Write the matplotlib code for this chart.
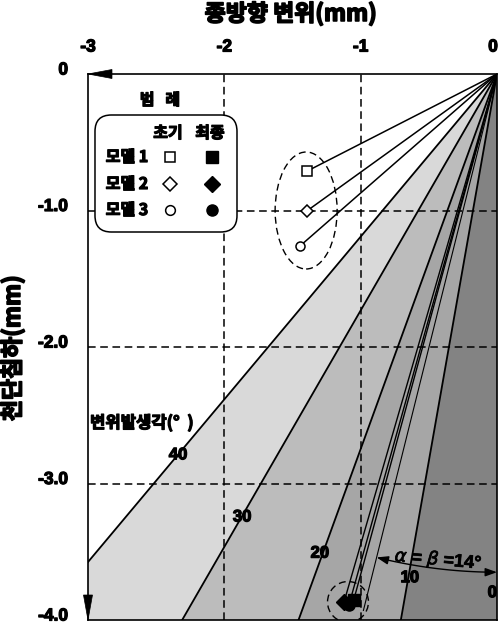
import matplotlib
matplotlib.use('Agg')
import matplotlib.pyplot as plt
import matplotlib.patheffects as pe
import numpy as np
from matplotlib.patches import Polygon, Ellipse, Circle, FancyBboxPatch, FancyArrowPatch
from matplotlib.path import Path

plt.rcParams['font.family'] = ['Noto Sans CJK KR', 'DejaVu Sans']

# ---------------- data ----------------
fan_angles = [40, 30, 20, 10, 0]          # displacement angle lines (deg from vertical)
fan_colors = ['#d9d9d9', '#bcbcbc', '#a6a6a6', '#838383']
fan_labels = ['40', '30', '20', '10', '0']

models = ['모델 1', '모델 2', '모델 3']
model_markers = ['s', 'D', 'o']
init_x = [-1.39, -1.39, -1.445]
init_y = [-0.71, -1.00, -1.26]
final_x = [-1.05, -1.122, -1.086]
final_y = [-3.85, -3.868, -3.89]
alpha_beta = 14

x_ticks = [-3, -2, -1, 0]
x_tick_labels = ['-3', '-2', '-1', '0']
y_ticks = [0, -1, -2, -3, -4]
y_tick_labels = ['0', '-1.0', '-2.0', '-3.0', '-4.0']

title_x = '종방향 변위(mm)'
title_y = '천단침하(mm)'
legend_title = '범   례'
legend_head = ['초기', '최종']
angle_title = '변위발생각(°  )'

NUM = ['Liberation Sans', 'DejaVu Sans']
HEAVY = [pe.withStroke(linewidth=0.9, foreground='black')]
HEAVY2 = [pe.withStroke(linewidth=1.2, foreground='black')]

# ---------------- figure ----------------
fig = plt.figure(figsize=(5.0, 6.23), dpi=100)
ax = fig.add_axes([88/500, 1-620/623, 409/500, 546/623])
ax.set_xlim(-3, 0)
ax.set_ylim(-4, 0)
ax.set_xticks([])
ax.set_yticks([])
for s in ax.spines.values():
    s.set_linewidth(1.2)
    s.set_zorder(10)

R = 20
# shaded wedges
for a1, a2, c in zip(fan_angles[:-1], fan_angles[1:], fan_colors):
    t1, t2 = np.radians(a1), np.radians(a2)
    poly = Polygon([(0, 0), (-R*np.sin(t1), -R*np.cos(t1)), (-R*np.sin(t2), -R*np.cos(t2))],
                   closed=True, facecolor=c, edgecolor='none', zorder=1)
    ax.add_patch(poly)
# fan lines
for a in fan_angles[:-1]:
    t = np.radians(a)
    ax.plot([0, -R*np.sin(t)], [0, -R*np.cos(t)], color='black', lw=1.3, zorder=3)

# grid dashed lines
for xv in [-2, -1]:
    ax.plot([xv, xv], [-4, 0], color='black', lw=1.1, ls=(0, (5, 3)), zorder=2)
for yv in [-1, -2, -3]:
    ax.plot([-3, 0], [yv, yv], color='black', lw=1.1, ls=(0, (5, 3)), zorder=2)

# fan labels
fan_label_pos = [(-2.34, -2.79), (-1.87, -3.245), (-1.30, -3.51), (-0.64, -3.69), (-0.035, -3.80)]
for lab, (lx, ly) in zip(fan_labels, fan_label_pos):
    ax.text(lx, ly, lab, fontsize=12, fontweight='bold', ha='center', va='center',
            family=NUM, zorder=6, path_effects=HEAVY)
ax.text(-2.985, -2.557, angle_title, fontsize=12, fontweight='bold', ha='left', va='center',
        zorder=6, path_effects=HEAVY)

# 14 degree line
tb = np.radians(alpha_beta)
yb = -3.93
ax.plot([0, yb*np.tan(tb)], [0, yb], color='black', lw=0.8, zorder=4)

# arc arrow
r = 3.65
th = np.linspace(tb, 0, 40)
arc = Path(np.column_stack([-r*np.sin(th), -r*np.cos(th)]))
arr = FancyArrowPatch(path=arc, arrowstyle='<|-|>,head_length=7,head_width=2.5',
                      color='black', lw=1.0, zorder=5, mutation_scale=1)
ax.add_patch(arr)
ax.text(-0.43, -3.56, r'$\alpha$ = $\beta$ =14°', fontsize=13, fontweight='bold',
        ha='center', va='center', rotation=-5, zorder=6, family=NUM,
        path_effects=[pe.withStroke(linewidth=0.5, foreground='black')])

# connecting lines to origin
for xi, yi in zip(init_x, init_y):
    ax.plot([0, xi], [0, yi], color='black', lw=1.1, zorder=4)
for xf, yf in zip(final_x, final_y):
    ax.plot([0, xf], [0, yf], color='black', lw=1.0, zorder=4)

# markers
for m, xi, yi, xf, yf in zip(model_markers, init_x, init_y, final_x, final_y):
    ax.plot(xi, yi, marker=m, ms=6.5 if m != 'D' else 6, mfc='white', mec='black', mew=1.1, zorder=7, ls='none')
    ax.plot(xf, yf, marker=m, ms=8, mfc='black', mec='black', zorder=7, ls='none')

# ellipse & circle
ax.add_patch(Ellipse((-1.40, -1.0), 0.455, 0.857, fill=False, ec='black', lw=1.0,
                     ls=(0, (5, 3)), zorder=6))
ax.add_patch(Circle((-1.093, -3.868), 0.15, fill=False, ec='black', lw=1.0,
                    ls=(0, (5, 3)), zorder=6, clip_on=True))

# axis arrows
def px2d(px, py):
    return (px - 497) / 136.33, -(py - 74) / 136.5

ax.add_patch(Polygon([px2d(88, 74), px2d(112, 69.5), px2d(112, 78.5)], closed=True,
                     fc='black', ec='black', lw=0.5, clip_on=False, zorder=11))
ax.add_patch(Polygon([px2d(88, 620), px2d(83.5, 595), px2d(92.5, 595)], closed=True,
                     fc='black', ec='black', lw=0.5, clip_on=False, zorder=11))

# legend box
ax.text(*px2d(160, 100), legend_title, fontsize=11.5, fontweight='bold', ha='center', va='center',
        zorder=12, path_effects=HEAVY)
x0, y0 = px2d(95, 232)
x1, y1 = px2d(237, 115)
box = FancyBboxPatch((x0, y0), x1-x0, y1-y0, boxstyle='round,pad=0,rounding_size=0.12',
                     fc='white', ec='black', lw=1.1, zorder=12)
ax.add_patch(box)
ax.text(*px2d(168, 133), legend_head[0], fontsize=11.5, fontweight='bold', ha='center', va='center',
        zorder=13, path_effects=HEAVY)
ax.text(*px2d(210, 133), legend_head[1], fontsize=11.5, fontweight='bold', ha='center', va='center',
        zorder=13, path_effects=HEAVY)
for i, (name, m) in enumerate(zip(models, model_markers)):
    py = [157, 184, 210][i]
    ax.text(*px2d(127, py), name, fontsize=11.5, fontweight='bold', ha='center', va='center',
            zorder=13, path_effects=HEAVY)
    ax.plot(*px2d(170, py), marker=m, ms=7, mfc='white', mec='black', mew=1.1, zorder=13, ls='none')
    ax.plot(*px2d(212, py), marker=m, ms=8 if m != 'D' else 8.5, mfc='black', mec='black', zorder=13, ls='none')

# tick labels
for xv, lab in zip(x_ticks, x_tick_labels):
    xp = 88 + (xv + 3) * 136.33
    xp = min(xp, 493)
    fig.text(xp / 500, 1 - 47/623, lab, fontsize=12.5, fontweight='bold',
             ha='center', va='center', family=NUM, path_effects=HEAVY)
for yv, lab in zip(y_ticks, y_tick_labels):
    fig.text(68/500, 1 - (74 - yv * 136.5 - 4) / 623, lab, fontsize=12.5, fontweight='bold',
             ha='right', va='center', family=NUM, path_effects=HEAVY)

fig.text(291/500, 1 - 14/623, title_x, fontsize=16.5, fontweight='bold', ha='center', va='center',
         path_effects=HEAVY2)
fig.text(13/500, 1 - 348/623, title_y, fontsize=16.5, fontweight='bold', ha='center', va='center',
         rotation=90, path_effects=HEAVY2)

fig.savefig('out.png', dpi=100)
